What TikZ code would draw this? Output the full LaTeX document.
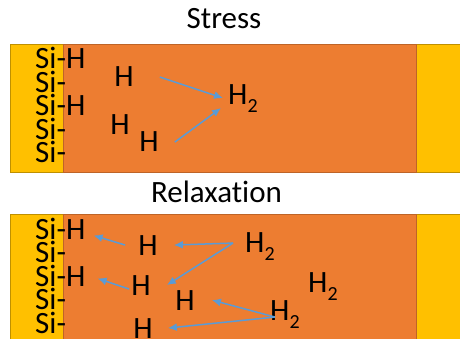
\documentclass[tikz,border=0pt]{standalone}
\usepackage{fontspec}
\setmainfont{Carlito}[Ligatures=NoCommon]
\usepackage{xcolor}
\usetikzlibrary{arrows.meta}
\definecolor{filmorange}{HTML}{ED7D31}
\definecolor{baseyellow}{HTML}{FFC000}
\definecolor{arrowblue}{HTML}{5B9BD5}
\newcommand{\htwo}{H\raisebox{-8pt}{\fontsize{20}{20}\selectfont 2}}

\begin{document}
\begin{tikzpicture}[
  x=1pt,y=-1pt,
  font=\fontsize{31}{31}\selectfont,
  title/.style={inner sep=0pt,anchor=base},
  atom/.style={inner sep=0pt,anchor=base},
  surf/.style={inner sep=0pt,anchor=base west},
  mol/.style={inner sep=0pt,anchor=base west},
  substrate/.style={fill=baseyellow,draw=baseyellow!75!black,line width=0.8pt},
  film/.style={fill=filmorange,draw=filmorange!80!black,line width=0.8pt},
  arrow/.style={-{Latex[length=9pt,width=8pt]},line width=1.5pt,arrowblue}
]
\useasboundingbox (0,0) rectangle (460,339);
\clip (0,0) rectangle (460,339);

\node[title] (stress) at (224,29) {Stress};
\draw[substrate] (10,44) rectangle (470,172);
\draw[film] (63,44) rectangle (416,172);
\node[surf] (ss1) at (35,69) {Si-H};
\node[surf] (ss2) at (35,92.5) {Si-};
\node[surf] (ss3) at (35,116) {Si-H};
\node[surf] (ss4) at (35,139.5) {Si-};
\node[surf] (ss5) at (35,163) {Si-};
\node[atom] (sh1) at (124,87) {H};
\node[atom] (sh2) at (120,135) {H};
\node[atom] (sh3) at (149,152) {H};
\node[mol] (sm) at (228,105) {\htwo};

\draw[arrow] ([xshift=26pt]sh1.east) -- ([xshift=-5pt,yshift=1pt]sm.west);
\draw[arrow] ([xshift=16pt]sh3.east) -- ([xshift=-7pt,yshift=-9pt]sm.west);

\node[title] (relax) at (216.5,202) {Relaxation};
\draw[substrate] (10,214) rectangle (470,345);
\draw[film] (63,214) rectangle (416,345);
\node[surf] (rs1) at (35,239) {Si-H};
\node[surf] (rs2) at (35,262.5) {Si-};
\node[surf] (rs3) at (35,286) {Si-H};
\node[surf] (rs4) at (35,309.5) {Si-};
\node[surf] (rs5) at (35,333) {Si-};
\node[atom] (rh1) at (148,255) {H};
\node[atom] (rh2) at (141,295) {H};
\node[atom] (rh3) at (185,310) {H};
\node[atom] (rh4) at (143,338) {H};
\node[mol] (rm1) at (245,252) {\htwo};
\node[mol] (rm2) at (308,292) {\htwo};
\node[mol] (rm3) at (270,320) {\htwo};

\draw[arrow] ([xshift=-13pt]rh1.west) -- ([xshift=8pt,yshift=-7pt]rs1.east);
\draw[arrow] ([xshift=-12pt,yshift=3pt]rm1.west) -- ([xshift=16pt]rh1.east);
\draw[arrow] ([xshift=-12pt,yshift=3pt]rm1.west) -- ([xshift=16pt]rh2.east);
\draw[arrow] ([xshift=-2pt,yshift=-4pt]rh2.west) -- ([xshift=12pt,yshift=-3pt]rs3.east);
\draw[arrow] ([xshift=5pt,yshift=-3pt]rm3.west) -- ([xshift=17pt]rh3.east);
\draw[arrow] ([xshift=5pt,yshift=-3pt]rm3.west) -- ([xshift=15pt]rh4.east);
\end{tikzpicture}
\end{document}
